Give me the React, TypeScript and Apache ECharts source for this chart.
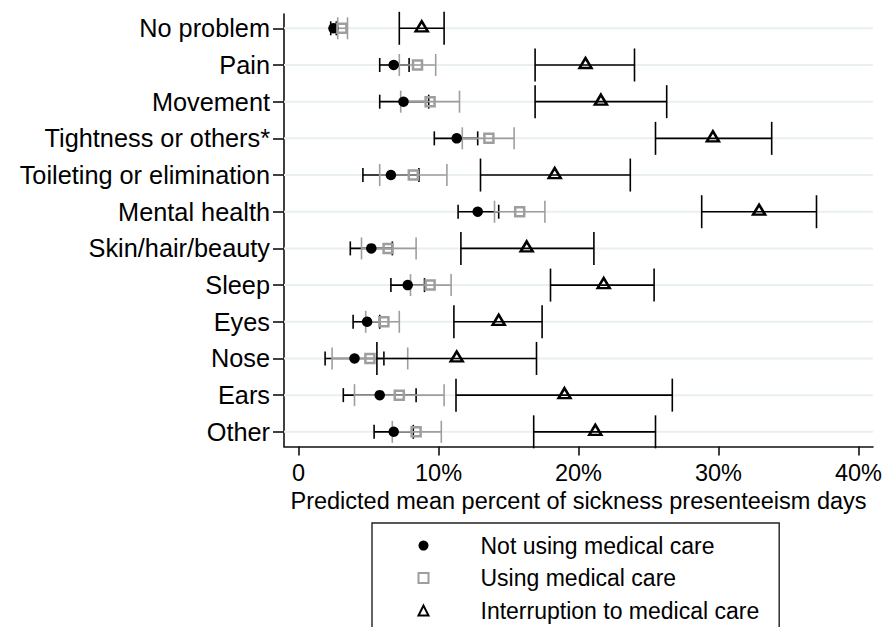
import React, { useEffect, useRef } from "react";
import * as echarts from "echarts";

const categories = [
  "No problem",
  "Pain",
  "Movement",
  "Tightness or others*",
  "Toileting or elimination",
  "Mental health",
  "Skin/hair/beauty",
  "Sleep",
  "Eyes",
  "Nose",
  "Ears",
  "Other",
];

const seriesNames = [
  "Not using medical care",
  "Using medical care",
  "Interruption to medical care",
];

// Not using medical care (filled circle)
const notUsingMean = [2.5, 6.8, 7.5, 11.3, 6.6, 12.8, 5.2, 7.8, 4.9, 4.0, 5.8, 6.8];
const notUsingLow = [2.3, 5.8, 5.8, 9.7, 4.6, 11.4, 3.7, 6.6, 3.9, 1.9, 3.2, 5.4];
const notUsingHigh = [2.7, 7.9, 9.3, 12.8, 8.6, 14.3, 6.7, 9.0, 5.8, 6.1, 8.4, 8.2];

// Using medical care (hollow square)
const usingMean = [3.1, 8.5, 9.4, 13.6, 8.2, 15.8, 6.4, 9.4, 6.1, 5.1, 7.2, 8.4];
const usingLow = [2.8, 7.2, 7.3, 11.7, 5.8, 14.0, 4.5, 8.0, 4.8, 2.4, 4.0, 6.7];
const usingHigh = [3.5, 9.8, 11.5, 15.4, 10.6, 17.6, 8.4, 10.9, 7.2, 7.8, 10.4, 10.2];

// Interruption to medical care (hollow triangle)
const interruptMean = [8.8, 20.5, 21.6, 29.6, 18.3, 32.9, 16.3, 21.8, 14.3, 11.3, 19.0, 21.2];
const interruptLow = [7.2, 16.9, 16.9, 25.5, 13.0, 28.8, 11.6, 18.0, 11.1, 5.6, 11.25, 16.8];
const interruptHigh = [10.4, 24.0, 26.3, 33.8, 23.7, 37.0, 21.1, 25.4, 17.4, 17.0, 26.7, 25.5];

const xTicks = [0, 10, 20, 30, 40];
const rowIndex = categories.map((_, i) => i);

const FONT = "'Liberation Sans', Arial, Helvetica, sans-serif";
const BLACK = "#000000";
const GRAY = "#9e9e9e";

function ciData(low: number[], high: number[]) {
  return categories.map((_, i) => [i, low[i], high[i]]);
}

function pointData(mean: number[]) {
  return categories.map((_, i) => [mean[i], i]);
}

function makeRender(color: string, capHalf: number, drawRows: boolean) {
  return (params: any, api: any) => {
    const idx = api.value(0);
    const a = api.coord([api.value(1), idx]);
    const b = api.coord([api.value(2), idx]);
    const children: any[] = [];
    if (drawRows) {
      const cs = params.coordSys;
      children.push({
        type: "line",
        shape: { x1: cs.x, y1: a[1], x2: cs.x + cs.width, y2: a[1] },
        style: { stroke: "#e8f0f2", lineWidth: 2 },
      });
    }
    const st = { stroke: color, lineWidth: 1.6 };
    children.push({ type: "line", shape: { x1: a[0], y1: a[1], x2: b[0], y2: b[1] }, style: st });
    children.push({ type: "line", shape: { x1: a[0], y1: a[1] - capHalf, x2: a[0], y2: a[1] + capHalf }, style: st });
    children.push({ type: "line", shape: { x1: b[0], y1: b[1] - capHalf, x2: b[0], y2: b[1] + capHalf }, style: st });
    return { type: "group", children };
  };
}

export default function App() {
  const ref = useRef<HTMLDivElement>(null);

  useEffect(() => {
    if (!ref.current) return;
    const chart = echarts.init(ref.current, undefined, { renderer: "svg" });
    const option: any = {
      animation: false,
      backgroundColor: "#ffffff",
      textStyle: { fontFamily: FONT, color: BLACK },
      grid: { left: 284, right: 23, top: 14, bottom: 180.5, containLabel: false },
      xAxis: {
        type: "value",
        min: -1.036,
        max: 41.036,
        name: "Predicted mean percent of sickness presenteeism days",
        nameLocation: "middle",
        nameGap: 40,
        nameTextStyle: { fontSize: 23.5, color: BLACK, fontFamily: FONT },
        axisLine: { show: true, onZero: false, lineStyle: { color: "#111", width: 1.6 } },
        axisTick: { show: true, length: 9, customValues: xTicks, lineStyle: { color: "#111", width: 1.6 } },
        axisLabel: {
          customValues: xTicks,
          margin: 14,
          fontSize: 23.5,
          color: BLACK,
          fontFamily: FONT,
          formatter: (v: number) => (v === 0 ? "0" : `${v}%`),
        },
        splitLine: { show: false },
      },
      yAxis: {
        type: "value",
        inverse: true,
        min: -0.39,
        max: 11.4,
        axisLine: { show: true, onZero: false, lineStyle: { color: "#111", width: 1.6 } },
        axisTick: { show: true, length: 11, customValues: rowIndex, lineStyle: { color: "#111", width: 1.6 } },
        axisLabel: {
          customValues: rowIndex,
          margin: 14,
          fontSize: 25.3,
          color: BLACK,
          fontFamily: FONT,
          formatter: (v: number) => categories[Math.round(v)] ?? "",
        },
        splitLine: { show: false },
      },
      legend: {
        data: seriesNames,
        orient: "vertical",
        left: 372,
        top: 523,
        height: 200,
        padding: [9.6, 20, 10, 44],
        itemWidth: 10,
        itemHeight: 10,
        itemGap: 6.5,
        borderColor: "#222",
        borderWidth: 1.4,
        backgroundColor: "#ffffff",
        formatter: (name: string) => `{g| }${name}`,
        textStyle: {
          fontSize: 23,
          color: BLACK,
          fontFamily: FONT,
          lineHeight: 26,
          rich: { g: { width: 47, lineHeight: 26, fontSize: 23 } },
        },
      },
      series: [
        {
          name: "ci-not-using",
          type: "custom",
          renderItem: makeRender(BLACK, 7, true),
          encode: { x: [1, 2], y: 0 },
          data: ciData(notUsingLow, notUsingHigh),
          silent: true,
        },
        {
          name: "ci-using",
          type: "custom",
          renderItem: makeRender(GRAY, 11, false),
          encode: { x: [1, 2], y: 0 },
          data: ciData(usingLow, usingHigh),
          silent: true,
        },
        {
          name: "ci-interrupt",
          type: "custom",
          renderItem: makeRender(BLACK, 16.5, false),
          encode: { x: [1, 2], y: 0 },
          data: ciData(interruptLow, interruptHigh),
          silent: true,
        },
        {
          name: seriesNames[0],
          type: "scatter",
          symbol: "circle",
          symbolSize: 10.5,
          itemStyle: { color: BLACK, opacity: 1 },
          data: pointData(notUsingMean),
        },
        {
          name: seriesNames[1],
          type: "scatter",
          symbol: "rect",
          symbolSize: 9,
          itemStyle: { color: "none", borderColor: GRAY, borderWidth: 2.5, opacity: 1 },
          data: pointData(usingMean),
        },
        {
          name: seriesNames[2],
          type: "scatter",
          symbol: "triangle",
          symbolSize: [12, 10],
          symbolOffset: [0, -2],
          itemStyle: { color: "none", borderColor: BLACK, borderWidth: 2.5, opacity: 1 },
          data: pointData(interruptMean),
        },
      ],
    };
    chart.setOption(option);
    return () => chart.dispose();
  }, []);

  return (
    <div
      ref={ref}
      style={{ position: "fixed", left: 0, top: 0, width: 896, height: 627 }}
    />
  );
}
